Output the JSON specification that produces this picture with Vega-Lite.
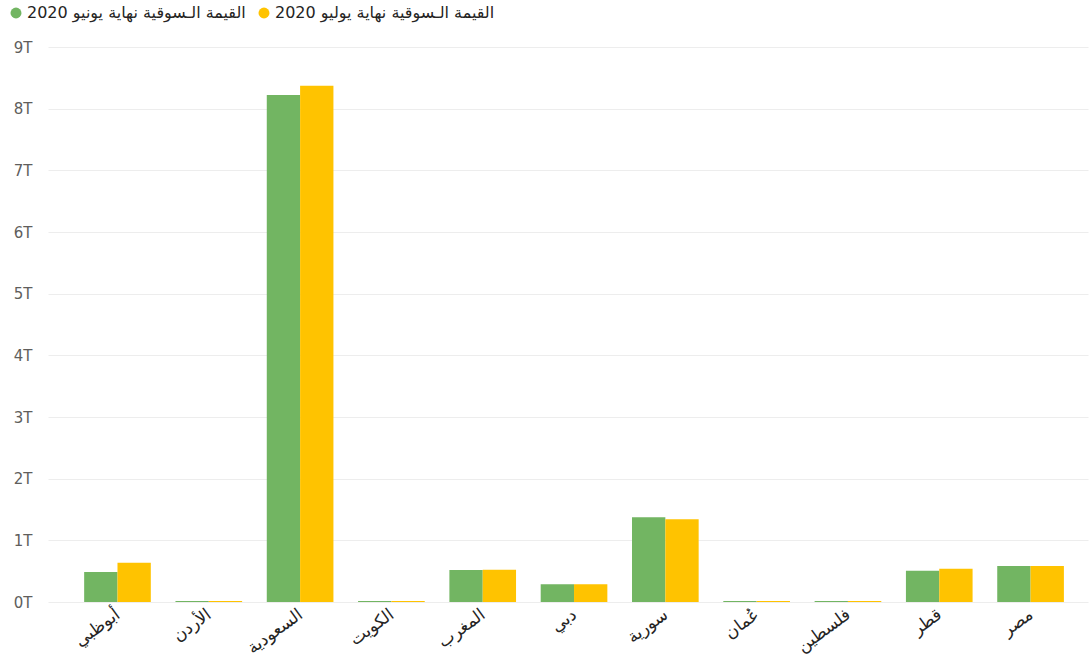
{
  "$schema": "https://vega.github.io/schema/vega-lite/v6.json",
  "autosize": "none",
  "width": 1040,
  "height": 555,
  "padding": {"left": 48, "top": 47, "right": 3, "bottom": 62},
  "background": "white",
  "config": {
    "font": "DejaVu Sans",
    "view": {"stroke": null}
  },
  "data": {
    "values": [
      {"market": "أبوظبي", "series": "القيمة الـسوقية نهاية يونيو 2020", "value_trillion": 0.487},
      {"market": "أبوظبي", "series": "القيمة الـسوقية نهاية يوليو 2020", "value_trillion": 0.635},
      {"market": "الأردن", "series": "القيمة الـسوقية نهاية يونيو 2020", "value_trillion": 0.016},
      {"market": "الأردن", "series": "القيمة الـسوقية نهاية يوليو 2020", "value_trillion": 0.016},
      {"market": "السعودية", "series": "القيمة الـسوقية نهاية يونيو 2020", "value_trillion": 8.22},
      {"market": "السعودية", "series": "القيمة الـسوقية نهاية يوليو 2020", "value_trillion": 8.37},
      {"market": "الكويت", "series": "القيمة الـسوقية نهاية يونيو 2020", "value_trillion": 0.017},
      {"market": "الكويت", "series": "القيمة الـسوقية نهاية يوليو 2020", "value_trillion": 0.017},
      {"market": "المغرب", "series": "القيمة الـسوقية نهاية يونيو 2020", "value_trillion": 0.52},
      {"market": "المغرب", "series": "القيمة الـسوقية نهاية يوليو 2020", "value_trillion": 0.525},
      {"market": "دبي", "series": "القيمة الـسوقية نهاية يونيو 2020", "value_trillion": 0.287},
      {"market": "دبي", "series": "القيمة الـسوقية نهاية يوليو 2020", "value_trillion": 0.287},
      {"market": "سورية", "series": "القيمة الـسوقية نهاية يونيو 2020", "value_trillion": 1.373},
      {"market": "سورية", "series": "القيمة الـسوقية نهاية يوليو 2020", "value_trillion": 1.34},
      {"market": "عُمان", "series": "القيمة الـسوقية نهاية يونيو 2020", "value_trillion": 0.016},
      {"market": "عُمان", "series": "القيمة الـسوقية نهاية يوليو 2020", "value_trillion": 0.016},
      {"market": "فلسطين", "series": "القيمة الـسوقية نهاية يونيو 2020", "value_trillion": 0.016},
      {"market": "فلسطين", "series": "القيمة الـسوقية نهاية يوليو 2020", "value_trillion": 0.016},
      {"market": "قطر", "series": "القيمة الـسوقية نهاية يونيو 2020", "value_trillion": 0.505},
      {"market": "قطر", "series": "القيمة الـسوقية نهاية يوليو 2020", "value_trillion": 0.54},
      {"market": "مصر", "series": "القيمة الـسوقية نهاية يونيو 2020", "value_trillion": 0.585},
      {"market": "مصر", "series": "القيمة الـسوقية نهاية يوليو 2020", "value_trillion": 0.585}
    ]
  },
  "mark": {"type": "bar"},
  "encoding": {
    "x": {
      "field": "market",
      "type": "nominal",
      "sort": null,
      "scale": {"paddingInner": 0.27, "paddingOuter": 0.33, "align": 0.6},
      "axis": {
        "title": null,
        "labelAngle": -36,
        "labelFontSize": 17,
        "labelColor": "#252423",
        "labelPadding": 4,
        "labelOffset": -4,
        "ticks": false,
        "domain": false,
        "grid": false
      }
    },
    "xOffset": {
      "field": "series",
      "type": "nominal",
      "sort": ["القيمة الـسوقية نهاية يونيو 2020", "القيمة الـسوقية نهاية يوليو 2020"]
    },
    "y": {
      "field": "value_trillion",
      "type": "quantitative",
      "scale": {"domain": [0, 9], "nice": false},
      "axis": {
        "title": null,
        "values": [0, 1, 2, 3, 4, 5, 6, 7, 8, 9],
        "labelExpr": "datum.value + 'T'",
        "labelFontSize": 15,
        "labelColor": "#605E5C",
        "labelPadding": 16,
        "ticks": false,
        "domain": false,
        "gridColor": "#EDEDED",
        "gridWidth": 1
      }
    },
    "color": {
      "field": "series",
      "type": "nominal",
      "sort": ["القيمة الـسوقية نهاية يونيو 2020", "القيمة الـسوقية نهاية يوليو 2020"],
      "scale": {"range": ["#72B562", "#FFC300"]},
      "legend": {
        "title": null,
        "orient": "none",
        "direction": "horizontal",
        "legendX": -40,
        "legendY": -42,
        "symbolType": "circle",
        "symbolSize": 120,
        "symbolStrokeWidth": 0,
        "labelFontSize": 16,
        "labelColor": "#252423",
        "columnPadding": 10,
        "labelOffset": 3,
        "labelLimit": 400
      }
    }
  }
}
